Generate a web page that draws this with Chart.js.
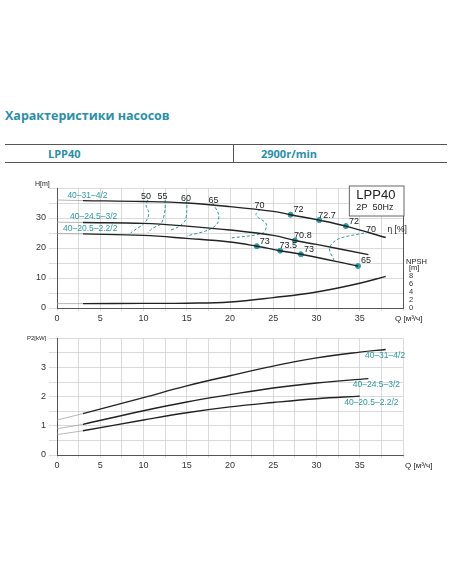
<!DOCTYPE html>
<html><head><meta charset="utf-8">
<script src="https://cdn.jsdelivr.net/npm/chart.js@4"></script>
<style>
body{margin:0;width:452px;height:584px;background:#fff;position:relative;font-family:"Open Sans",sans-serif;overflow:hidden}
.t{position:absolute;left:5px;top:107px;font-weight:bold;font-size:12.5px;color:#2a8fa8}
.tb{position:absolute;left:5px;width:442px;top:144px;height:17px;border-top:1.5px solid #555;border-bottom:1.5px solid #555}
.tb div{position:absolute;top:1px;font-weight:bold;font-size:11px;color:#2a8fa8}
canvas{position:absolute;left:0}
</style></head><body>
<div class="t">Характеристики насосов</div>
<div class="tb"><div style="left:43px">LPP40</div><div style="left:228px;top:-1px;height:19px;border-left:1.5px solid #555"></div><div style="left:256px">2900r/min</div></div>
<div style="position:absolute;left:0;top:175px;width:452px;height:150px"><canvas id="c1"></canvas></div>
<div style="position:absolute;left:0;top:330px;width:452px;height:142px"><canvas id="c2"></canvas></div>
<script>
const names=["40–31–4/2","40–24.5–3/2","40–20.5–2.2/2"];
const hExt=[[{x:0,y:36},{x:3,y:35.8}],[{x:0,y:28.6},{x:3,y:28.5}],[{x:0,y:24.8},{x:3,y:24.7}]];
const h1=[{x:3,y:35.8},{x:10,y:35.5},{x:15,y:35},{x:20,y:33.8},{x:25,y:32.2},{x:27,y:31.1},{x:30.3,y:29.3},{x:33.4,y:27.3},{x:38,y:23.5}];
const h2=[{x:3,y:28.5},{x:10,y:28.2},{x:15,y:27.3},{x:20,y:26},{x:25,y:24.2},{x:27.5,y:22.5},{x:30,y:21.2},{x:36,y:17.8}];
const h3=[{x:3,y:24.7},{x:10,y:24.2},{x:15,y:23.2},{x:20,y:22},{x:23.1,y:20.6},{x:25.8,y:19.1},{x:28.2,y:17.9},{x:34.8,y:14}];
const npsh=[{x:3,y:1.1},{x:10,y:1.15},{x:15,y:1.2},{x:20,y:1.5},{x:25,y:2.6},{x:30,y:4.0},{x:35,y:6.2},{x:38,y:7.9}];
const npshExt=[{x:0,y:1.1},{x:3,y:1.1}];
const effLines={"50":[{x:10.5,y:36},{x:10.3,y:34},{x:10.6,y:32},{x:10.5,y:30},{x:10,y:28},{x:9,y:26},{x:8.5,y:25}],
"55":[{x:12.5,y:36},{x:12.5,y:33},{x:12.3,y:30},{x:12,y:28},{x:11,y:26.5},{x:10.5,y:25}],
"60":[{x:15,y:36},{x:15,y:32},{x:14.8,y:29},{x:14,y:27},{x:13,y:25.8}],
"65":[{x:18,y:35},{x:18.7,y:31},{x:18.5,y:28},{x:17.5,y:26},{x:15,y:24}],
"70":[{x:23.5,y:33},{x:23,y:31},{x:24.2,y:28},{x:23.8,y:25},{x:20,y:23.3}],
"70r":[{x:35.5,y:25},{x:32.5,y:23},{x:31.5,y:20},{x:32,y:16}]};
const effPts=[{x:27,y:31.1,l:"72"},{x:30.3,y:29.3,l:"72.7"},{x:33.4,y:27.3,l:"72"},{x:27.5,y:22.5,l:"70.8"},{x:23.1,y:20.6,l:"73"},{x:25.8,y:19.1,l:"73.5"},{x:28.2,y:17.9,l:"73"},{x:34.8,y:14,l:"65"}];
const effTxt=[{x:10.3,y:37,l:"50"},{x:12.2,y:37,l:"55"},{x:14.9,y:36.5,l:"60"},{x:18.1,y:35.7,l:"65"},{x:23.4,y:34,l:"70"},{x:36.3,y:26,l:"70"}];
const p1=[{x:3,y:1.42},{x:10,y:1.97},{x:15,y:2.37},{x:20,y:2.72},{x:25,y:3.05},{x:30,y:3.33},{x:35,y:3.53},{x:38,y:3.62}];
const p2=[{x:3,y:1.05},{x:10,y:1.52},{x:15,y:1.82},{x:20,y:2.07},{x:25,y:2.3},{x:30,y:2.47},{x:36,y:2.62}];
const p3=[{x:3,y:0.83},{x:10,y:1.2},{x:15,y:1.45},{x:20,y:1.65},{x:25,y:1.8},{x:30,y:1.93},{x:35,y:2.02}];
const pExt=[[{x:0,y:1.2},{x:3,y:1.42}],[{x:0,y:0.9},{x:3,y:1.05}],[{x:0,y:0.7},{x:3,y:0.83}]];
const TEAL="#2a9aa0",F="Arial, 'Liberation Sans'";
const line=(d,w,c,extra)=>Object.assign({data:d,borderColor:c||"#222",borderWidth:w||1.4,pointRadius:0,tension:0.4,fill:false},extra||{});
const xAxis={type:"linear",min:0,max:40,ticks:{stepSize:2.5,autoSkip:false,maxRotation:0,color:"#333",font:{size:9,family:F},padding:2,callback:v=>(v%5===0&&v<=35)?v:""},grid:{color:"#ccc",lineWidth:0.7,tickLength:3},border:{color:"#555"},afterFit:s=>{s.height=17}};
const txt=(ctx,t,x,y,c,sz,al)=>{ctx.save();ctx.fillStyle=c||"#222";ctx.font=(sz||8)+"px "+F;ctx.textAlign=al||"left";ctx.textBaseline="middle";ctx.fillText(t,x,y);ctx.restore();};
const ann1={id:"a1",afterDatasetsDraw(ch){const c=ch.ctx,x=ch.scales.x,y=ch.scales.y,a=ch.chartArea;
 effTxt.forEach(p=>txt(c,p.l,x.getPixelForValue(p.x),y.getPixelForValue(p.y),"#222",9,"center"));
 effPts.forEach(p=>txt(c,p.l,x.getPixelForValue(p.x)+8,y.getPixelForValue(p.y)-5,"#222",9,"center"));
 txt(c,names[0],x.getPixelForValue(1.2),y.getPixelForValue(37.5),TEAL,8.5);
 txt(c,names[1],x.getPixelForValue(1.5),y.getPixelForValue(30.3),TEAL,8.5);
 txt(c,names[2],x.getPixelForValue(0.7),y.getPixelForValue(26.3),TEAL,8.5);
 txt(c,"η [%]",x.getPixelForValue(38.2),y.getPixelForValue(26),"#222",8.5);
 txt(c,"H[m]",a.left-22,a.top-4,"#222",7);
 txt(c,"NPSH",a.right+3,y.getPixelForValue(15.5),"#222",7.5);txt(c,"[m]",a.right+6,y.getPixelForValue(13.3),"#222",7.5);
 txt(c,"Q [м³/ч]",a.right-8,a.bottom+11,"#222",8);
 c.save();c.fillStyle="#fff";c.strokeStyle="#666";c.lineWidth=1;const bx=x.getPixelForValue(33.8),by=a.top-2;c.fillRect(bx,by,a.right-bx+1,30);c.strokeRect(bx,by,a.right-bx+1,30);c.restore();
 txt(c,"LPP40",bx+7,by+9,"#222",13);txt(c,"2P  50Hz",bx+7,by+22,"#222",9);
}};
new Chart(document.getElementById("c1"),{type:"line",data:{datasets:[
 ...hExt.map(d=>line(d,0.7,"#999",{yAxisID:"y"})),
 line(h1,1.4),line(h2,1.4),line(h3,1.4),
 line(npshExt,0.7,"#999",{yAxisID:"y2"}),line(npsh,1.4,"#222",{yAxisID:"y2"}),
 ...Object.values(effLines).map(d=>line(d,1,TEAL,{borderDash:[3,2],tension:0.3})),
 {data:effPts,showLine:false,pointRadius:2.5,pointBackgroundColor:TEAL,pointBorderColor:TEAL}
]},options:{responsive:true,maintainAspectRatio:false,animation:false,layout:{padding:{left:0,right:34,top:13,bottom:0}},
plugins:{legend:{display:false},tooltip:{enabled:false}},
scales:{x:xAxis,
y:{min:0,max:40,ticks:{stepSize:5,autoSkip:false,color:"#333",font:{size:9,family:F},callback:v=>v%10===0&&v<40?v:""},grid:{color:"#ccc",lineWidth:0.7},border:{color:"#555"},afterFit:s=>{s.width=57}},
y2:{position:"right",min:0,max:30,ticks:{stepSize:1,autoSkip:false,color:"#333",font:{size:7.5,family:F},callback:v=>v<=8&&v%2===0?v:""},grid:{display:false,tickLength:3},border:{color:"#555"},afterFit:s=>{s.width=15}}}},plugins:[ann1]});
const ann2={id:"a2",afterDatasetsDraw(ch){const c=ch.ctx,x=ch.scales.x,y=ch.scales.y,a=ch.chartArea;
 txt(c,names[0],x.getPixelForValue(35.6),y.getPixelForValue(3.4),TEAL,8.5);
 txt(c,names[1],x.getPixelForValue(34.2),y.getPixelForValue(2.42),TEAL,8.5);
 txt(c,names[2],x.getPixelForValue(33.2),y.getPixelForValue(1.8),TEAL,8.5);
 txt(c,"P2[kW]",a.left-30,a.top,"#222",6);
 txt(c,"Q [м³/ч]",a.right+2,a.bottom+11,"#222",8);
}};
new Chart(document.getElementById("c2"),{type:"line",data:{datasets:[
 ...pExt.map(d=>line(d,0.7,"#999")),line(p1,1.4),line(p2,1.4),line(p3,1.4)
]},options:{responsive:true,maintainAspectRatio:false,animation:false,layout:{padding:{left:0,right:49,top:5,bottom:0}},
plugins:{legend:{display:false},tooltip:{enabled:false}},
scales:{x:xAxis,y:{min:0,max:4,ticks:{stepSize:0.5,autoSkip:false,color:"#333",font:{size:9,family:F},callback:v=>Number.isInteger(v)&&v<4?v:""},grid:{color:"#ccc",lineWidth:0.7},border:{color:"#555"},afterFit:s=>{s.width=57}}}},plugins:[ann2]});
</script></body></html>
